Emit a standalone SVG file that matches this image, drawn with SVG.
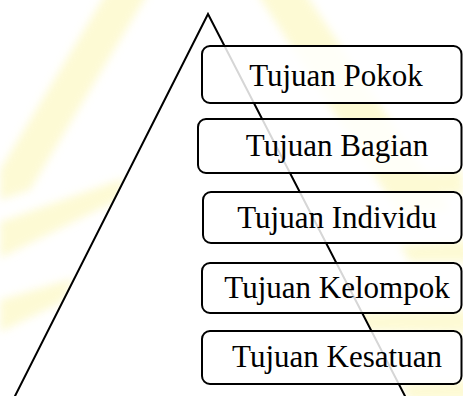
<svg xmlns="http://www.w3.org/2000/svg" width="463" height="396" viewBox="0 0 463 396">
  <defs>
    <filter id="soft" x="-20%" y="-20%" width="140%" height="140%">
      <feGaussianBlur stdDeviation="4"/>
    </filter>
    <style>
      .ray { fill: #fcf7b8; }
      .tri { fill: #ffffff; stroke: #000000; stroke-width: 2; stroke-linejoin: miter; }
      .box rect { fill: #ffffff; fill-opacity: 0.84; stroke: #000000; stroke-width: 2; }
      .box text { font-family: "Liberation Serif", "Times New Roman", serif; font-size: 31px; fill: #000000; text-anchor: middle; }
    </style>
  </defs>

  <rect width="463" height="396" fill="#ffffff"/>

  <!-- pale yellow rays in the backdrop -->
  <g filter="url(#soft)" opacity="0.6">
    <polygon class="ray" points="108,-10 150,-10 30,190 0,200 0,170"/>
    <polygon class="ray" points="0,222 125,178 118,200 0,258"/>
    <polygon class="ray" points="0,300 75,278 62,302 0,332"/>
    <polygon class="ray" points="255,-10 303,-10 450,210 400,215"/>
    <polygon class="ray" points="380,175 463,170 463,195 395,192"/>
    <polygon class="ray" points="400,245 470,240 470,262 410,262"/>
    <polygon class="ray" points="340,313 470,310 470,333 340,331" opacity="1.4"/>
    <polygon class="ray" points="400,384 470,380 470,400 410,400"/>
  </g>

  <!-- pyramid -->
  <g id="pyramid">
    <polygon class="tri" points="208,14 406,398 14,398"/>
  </g>

  <!-- levels, top to bottom -->
  <g id="tujuan-pokok" class="box">
    <rect x="202" y="46" width="259.5" height="57" rx="8" ry="8"/>
    <text x="336" y="86">Tujuan Pokok</text>
  </g>
  <g id="tujuan-bagian" class="box">
    <rect x="198" y="119" width="263.5" height="54" rx="8" ry="8"/>
    <text x="337" y="156">Tujuan Bagian</text>
  </g>
  <g id="tujuan-individu" class="box">
    <rect x="203" y="192" width="258.5" height="51" rx="8" ry="8"/>
    <text x="337" y="228">Tujuan Individu</text>
  </g>
  <g id="tujuan-kelompok" class="box">
    <rect x="202" y="263" width="259.5" height="50" rx="8" ry="8"/>
    <text x="337" y="298">Tujuan Kelompok</text>
  </g>
  <g id="tujuan-kesatuan" class="box">
    <rect x="202" y="331" width="259.5" height="53" rx="8" ry="8"/>
    <text x="337" y="367">Tujuan Kesatuan</text>
  </g>

  <g id="connectors"/>
</svg>
